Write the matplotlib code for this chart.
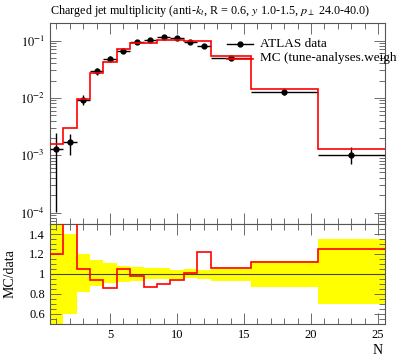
import numpy as np
import matplotlib
matplotlib.use("Agg")
import matplotlib.pyplot as plt
from matplotlib.ticker import MultipleLocator, LogLocator, NullFormatter

plt.rcParams['font.family'] = ['Liberation Serif', 'DejaVu Serif']
plt.rcParams['mathtext.fontset'] = 'stix'

# ---- data ----
edges = [0.5, 1.5, 2.5, 3.5, 4.5, 5.5, 6.5, 7.5, 8.5, 9.5, 10.5, 11.5, 12.5, 15.5, 20.5, 25.5]
data_vals = [1.3e-3, 1.7e-3, 9.2e-3, 0.0289, 0.0483, 0.0668, 0.093, 0.104, 0.115, 0.110,
             0.096, 0.081, 0.050, 0.0129, 1.01e-3]
data_rel_up = [0.85, 0.40, 0.203, 0.137, 0.107, 0.080, 0.073, 0.057, 0.060, 0.043,
               0.050, 0.040, 0.053, 0.130, 0.350]
data_rel_dn = [0.92, 0.40, 0.183, 0.123, 0.093, 0.077, 0.067, 0.050, 0.050, 0.050,
               0.043, 0.053, 0.070, 0.130, 0.300]
mc_ratio = [1.20, 1.74, 1.053, 0.943, 0.857, 1.047, 0.977, 0.873, 0.903, 0.940,
            1.013, 1.220, 1.060, 1.123, 1.250]

edges_a = np.array(edges)
d = np.array(data_vals)
up = np.array(data_rel_up)
dn = np.array(data_rel_dn)
r = np.array(mc_ratio)
mc = d * r
centers = 0.5 * (edges_a[:-1] + edges_a[1:])
halfw = 0.5 * np.diff(edges_a)

W, H = 397, 358
fig = plt.figure(figsize=(W / 100, H / 100), dpi=100)
x0, x1 = 49.7, 384.7
top = 23.3
ax = fig.add_axes([x0 / W, 1 - 224 / H, (x1 - x0) / W, (224 - top) / H])
axr = fig.add_axes([x0 / W, 1 - 324 / H, (x1 - x0) / W, 100 / H])

# upper panel
ax.errorbar(centers, d, xerr=halfw, yerr=[d * dn, d * up], fmt='o', color='black',
            ms=3.5, lw=1.0, elinewidth=1.0, capsize=0, zorder=3)
ax.stairs(mc, edges_a, baseline=None, color='red', lw=1.2, zorder=4)
ax.set_yscale('log')
ax.set_xlim(0.5, 25.5)
ax.set_ylim(10 ** -4.2, 10 ** -0.70)
ax.set_yticks([1e-4, 1e-3, 1e-2, 1e-1])
ax.set_yticklabels([r'$10^{-4}$', r'$10^{-3}$', r'$10^{-2}$', r'$10^{-1}$'])
ax.yaxis.set_minor_locator(LogLocator(base=10, subs=np.arange(2, 10)))
ax.yaxis.set_minor_formatter(NullFormatter())
ax.xaxis.set_major_locator(MultipleLocator(5))
ax.xaxis.set_minor_locator(MultipleLocator(1))
ax.tick_params(axis='x', labelbottom=False)

# lower panel
axr.stairs(1 + up, edges_a, baseline=1 - dn, fill=True, color='#ffff00', lw=0, zorder=1)
axr.axhline(1.0, color='#444444', lw=0.8, zorder=2)
axr.stairs(r, edges_a, baseline=None, color='red', lw=1.2, zorder=3)
axr.set_xlim(0.5, 25.5)
axr.set_ylim(0.5, 1.5)
axr.set_yticks([0.6, 0.8, 1.0, 1.2, 1.4])
axr.set_yticklabels(['0.6', '0.8', '1', '1.2', '1.4'])
axr.yaxis.set_minor_locator(MultipleLocator(0.05))
axr.xaxis.set_major_locator(MultipleLocator(5))
axr.xaxis.set_minor_locator(MultipleLocator(1))

for a in (ax, axr):
    a.tick_params(which='both', direction='in', top=True, right=True, colors='#555555',
                  labelcolor='black', labelsize=9)
    a.tick_params(which='major', length=8, width=0.6)
    a.tick_params(which='minor', length=4, width=0.6)
    for s in a.spines.values():
        s.set_color('#555555')
        s.set_linewidth(0.8)

fig.text(10 / W, 1 - 274 / H, 'MC/data', rotation=90, ha='center', va='center', fontsize=10)
fig.text(378 / W, 1 - 350 / H, 'N', ha='center', va='center', fontsize=10)

fig.text(x0 / W, 1 - 11 / H,
         r'Charged jet multiplicity (anti-$k_t$, R = 0.6, $y$ 1.0-1.5, $p_\perp$ 24.0-40.0)',
         ha='left', va='center', fontsize=8.7)

# legend (manual)
ax.plot([226.7 / W, 253.3 / W], [1 - 44 / H] * 2, transform=fig.transFigure, color='black', lw=1.0,
        clip_on=False, zorder=5)
ax.plot([240 / W], [1 - 44 / H], 'o', transform=fig.transFigure, color='black', ms=3.5,
        clip_on=False, zorder=5)
ax.plot([226.7 / W, 253.3 / W], [1 - 58.5 / H] * 2, transform=fig.transFigure, color='red', lw=1.2,
        clip_on=False, zorder=5)
fig.text(260.5 / W, 1 - 44 / H, 'ATLAS data', ha='left', va='center', fontsize=9.5)
fig.text(260.5 / W, 1 - 58.5 / H, 'MC (tune-analyses.weights)', ha='left', va='center', fontsize=9.5)

fig.savefig('out.png', dpi=100)
